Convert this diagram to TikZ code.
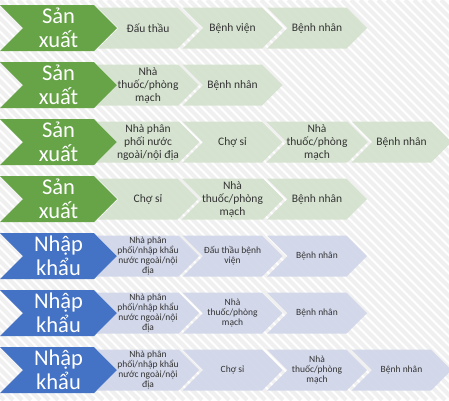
\documentclass[tikz,border=0pt]{standalone}
\usepackage{fontspec}
\setmainfont{Carlito}
\usepackage{xcolor}
\definecolor{prodgreen}{HTML}{66A447}
\definecolor{prodlight}{HTML}{D3E1CC}
\definecolor{impblue}{HTML}{4472C4}
\definecolor{implight}{HTML}{CFD5E9}
\usepackage{tikz}
\usetikzlibrary{shapes.symbols}
\tikzset{
  chev/.style  ={signal, signal to=east, signal from=west, signal pointer angle=90,
                 inner sep=0pt, outer sep=0pt, align=center, draw=none},
  head/.style  ={chev, minimum width=117pt, minimum height=46pt, text=white,
                 font=\fontsize{22.5}{23.5}\selectfont},
  hgreen/.style={head, fill=prodgreen},
  hblue/.style ={head, fill=impblue},
  stage/.style ={chev, minimum width=100pt, minimum height=41pt, text=black!80,
                 fill opacity=0.9, text opacity=1},
  sgreen/.style={stage, fill=prodlight, font=\fontsize{11.5}{13}\selectfont},
  sblue/.style ={stage, fill=implight, font=\fontsize{9.5}{10.3}\selectfont},
  stripe/.style={line width=4pt, black!6},
}

\begin{document}
\begin{tikzpicture}[x=1pt,y=-1pt]
  \useasboundingbox (0,0) rectangle (449,400);
  \fill[white] (0,0) rectangle (449,400);
  \begin{scope}
    \clip (0,0) rectangle (449,400);
    \foreach \i in {-45,...,50} \draw[stripe] (\i*9,0) -- ++(400,400);
  \end{scope}
  % domestic production
  \node[hgreen] (r1h) at (58.5,28) {Sản\\xuất};
  \node[sgreen] (r1a) at (148,28)   {Đấu thầu};
  \node[sgreen] (r1b) at (232.5,28) {Bệnh viện};
  \node[sgreen] (r1c) at (317,28)   {Bệnh nhân};
  \node[hgreen] (r2h) at (58.5,85) {Sản\\xuất};
  \node[sgreen] (r2a) at (148,85)   {Nhà\\thuốc/phòng\\mạch};
  \node[sgreen] (r2b) at (232.5,85) {Bệnh nhân};
  \node[hgreen] (r3h) at (58.5,142) {Sản\\xuất};
  \node[sgreen] (r3a) at (148,142)   {Nhà phân\\phối nước\\ngoài/nội địa};
  \node[sgreen] (r3b) at (232.5,142) {Chợ sỉ};
  \node[sgreen] (r3c) at (317,142)   {Nhà\\thuốc/phòng\\mạch};
  \node[sgreen] (r3d) at (401.5,142) {Bệnh nhân};
  \node[hgreen] (r4h) at (58.5,199) {Sản\\xuất};
  \node[sgreen] (r4a) at (148,199)   {Chợ sỉ};
  \node[sgreen] (r4b) at (232.5,199) {Nhà\\thuốc/phòng\\mạch};
  \node[sgreen] (r4c) at (317,199)   {Bệnh nhân};
  % imports
  \node[hblue] (r5h) at (58.5,256) {Nhập\\khẩu};
  \node[sblue] (r5a) at (148,256)   {Nhà phân\\phối/nhập khẩu\\nước ngoài/nội\\địa};
  \node[sblue] (r5b) at (232.5,256) {Đấu thầu bệnh\\viện};
  \node[sblue] (r5c) at (317,256)   {Bệnh nhân};
  \node[hblue] (r6h) at (58.5,313) {Nhập\\khẩu};
  \node[sblue] (r6a) at (148,313)   {Nhà phân\\phối/nhập khẩu\\nước ngoài/nội\\địa};
  \node[sblue] (r6b) at (232.5,313) {Nhà\\thuốc/phòng\\mạch};
  \node[sblue] (r6c) at (317,313)   {Bệnh nhân};
  \node[hblue] (r7h) at (58.5,370) {Nhập\\khẩu};
  \node[sblue] (r7a) at (148,370)   {Nhà phân\\phối/nhập khẩu\\nước ngoài/nội\\địa};
  \node[sblue] (r7b) at (232.5,370) {Chợ sỉ};
  \node[sblue] (r7c) at (317,370)   {Nhà\\thuốc/phòng\\mạch};
  \node[sblue] (r7d) at (401.5,370) {Bệnh nhân};
\end{tikzpicture}
\end{document}
